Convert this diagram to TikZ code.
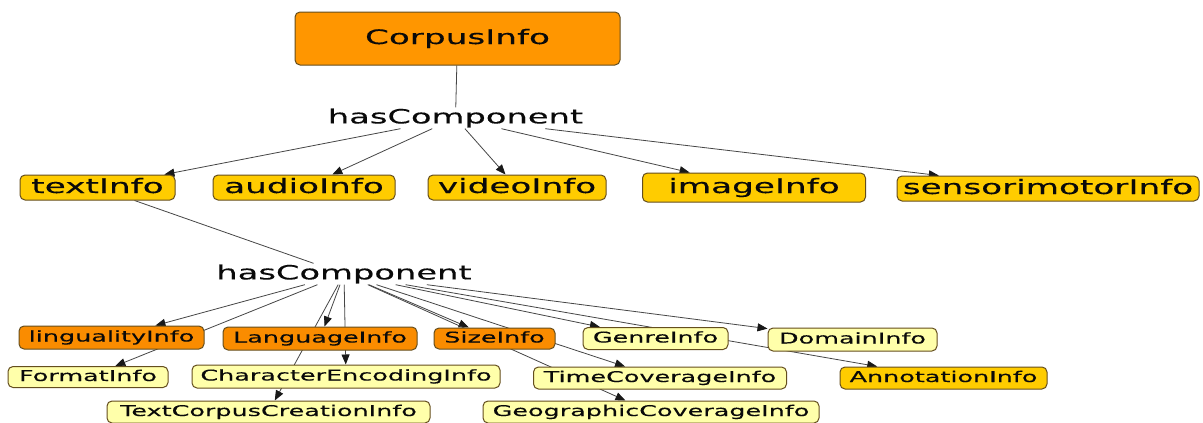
\documentclass[tikz,border=0pt]{standalone}
\usepackage{fontspec}
\usetikzlibrary{arrows.meta,backgrounds}
\newfontfamily\wf[FakeStretch=1.72,FakeBold=0.25]{DejaVu Sans}
\definecolor{corpusor}{RGB}{255,150,0}
\definecolor{darkor}{RGB}{250,140,0}
\definecolor{gold}{RGB}{255,204,0}
\definecolor{pale}{RGB}{255,255,170}
\definecolor{bordercol}{RGB}{100,78,30}
\definecolor{edgecol}{RGB}{70,70,70}
\definecolor{txt}{RGB}{10,10,10}
\tikzset{
 box/.style={draw=bordercol, line width=1pt, rounded corners=5pt, inner sep=0pt, text=txt},
 big/.style={box, font=\wf\fontsize{19.9}{22}\selectfont, text height=15pt, text depth=4pt},
 small/.style={box, font=\wf\fontsize{14.8}{16}\selectfont, text height=11pt, text depth=3pt},
 rel/.style={inner sep=1pt, text=txt, font=\wf\fontsize{19.6}{22}\selectfont},
 link/.style={draw=edgecol, line width=0.8pt},
 arr/.style={link, -{Triangle[length=10pt,width=8pt,color=black!90]}},
}
\begin{document}
\begin{tikzpicture}[x=1pt,y=-1pt]
\useasboundingbox (0,0) rectangle (1203,423);
% top
\node[big, fill=corpusor, minimum width=325pt, minimum height=53pt] (corpus) at (457.5,38.5) {CorpusInfo};
\node[rel] (hc1) at (455.5,118) {hasComponent};
% row 1
\node[big, fill=gold, minimum width=155pt, minimum height=25pt] (textinfo) at (97.5,187.5) {textInfo};
\node[big, fill=gold, minimum width=182pt, minimum height=25pt] (audio) at (304,187.5) {audioInfo};
\node[big, fill=gold, minimum width=178pt, minimum height=25pt] (video) at (517,187.5) {videoInfo};
\node[big, fill=gold, minimum width=223pt, minimum height=29pt] (image) at (754,187.5) {imageInfo};
\node[big, fill=gold, minimum width=302pt, minimum height=25pt] (sensor) at (1048,188.5) {sensorimotorInfo};
% second relation
\node[rel] (hc2) at (344,274) {hasComponent};
% row 2
\node[small, fill=darkor, minimum width=185pt, minimum height=23pt] (ling) at (111.5,337.5) {lingualityInfo};
\node[small, fill=darkor, minimum width=194pt, minimum height=23pt] (lang) at (320,338.5) {LanguageInfo};
\node[small, fill=darkor, minimum width=121pt, minimum height=21pt] (size) at (494.5,338.5) {SizeInfo};
\node[small, fill=pale, minimum width=145pt, minimum height=22pt] (genre) at (655.5,338.5) {GenreInfo};
\node[small, fill=pale, minimum width=169pt, minimum height=23pt] (domain) at (852.5,339.5) {DomainInfo};
% row 3
\node[small, fill=pale, minimum width=160pt, minimum height=21pt] (format) at (88,377) {FormatInfo};
\node[small, fill=pale, minimum width=308pt, minimum height=23pt] (charenc) at (346,376.5) {CharacterEncodingInfo};
\node[small, fill=pale, minimum width=253pt, minimum height=22pt] (timecov) at (660,378) {TimeCoverageInfo};
\node[small, fill=gold, minimum width=207pt, minimum height=22pt] (annot) at (943.5,378) {AnnotationInfo};
% row 4
\node[small, fill=pale, minimum width=323pt, minimum height=22pt] (tcc) at (268.5,412) {TextCorpusCreationInfo};
\node[small, fill=pale, minimum width=336pt, minimum height=22pt] (geo) at (651,412) {GeographicCoverageInfo};
\begin{pgfonlayer}{background}
\fill[white] (0,0) rectangle (1203,423);
\draw[link] (corpus) -- (hc1);
\draw[arr] (hc1) -- (textinfo);
\draw[arr] (hc1) -- (audio);
\draw[arr] (hc1) -- (video);
\draw[arr] (hc1) -- (image);
\draw[arr] (hc1) -- (sensor);
\draw[link] (textinfo) -- (hc2);
\draw[arr] (hc2) -- (ling);
\draw[arr] (hc2) -- (format);
\draw[arr] (hc2) -- (lang);
\draw[arr] (hc2) -- (tcc);
\draw[arr] (hc2) -- (charenc);
\draw[arr] (hc2) -- (size);
\draw[arr] (hc2) -- (timecov);
\draw[arr] (hc2) -- (geo);
\draw[arr] (hc2) -- (genre);
\draw[arr] (hc2) -- (annot);
\draw[arr] (hc2) -- (domain);
\end{pgfonlayer}
\end{tikzpicture}
\end{document}
